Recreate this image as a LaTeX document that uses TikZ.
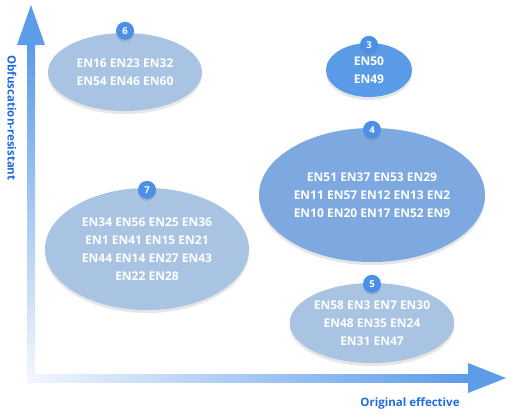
\documentclass[tikz,border=0pt]{standalone}
\usepackage{fontspec}
\setmainfont{Open Sans}
\usepackage{xcolor}
\usetikzlibrary{shapes.geometric}
\usetikzlibrary{shadows}

\definecolor{axisblue}{HTML}{5C9CE8}
\definecolor{axislight}{HTML}{F2F6FD}
\definecolor{labelblue}{HTML}{1F6BE0}
\definecolor{paleblue}{HTML}{A9C3E3}
\definecolor{midblue}{HTML}{7DA9E0}
\definecolor{brightblue}{HTML}{5A9BE8}
\definecolor{badgeblue}{HTML}{4C90E6}

\begin{document}
\begin{tikzpicture}[x=1pt, y=-1pt,
    group/.style = {ellipse, draw=none, fill=paleblue, text=white,
                    font=\bfseries\fontsize{12}{18}\selectfont, align=center,
                    inner sep=0pt,
                    drop shadow={opacity=0.2, shadow xshift=0pt, shadow yshift=-3pt}},
    badge/.style = {circle, fill=badgeblue, text=white, minimum size=18pt,
                    inner sep=0pt, font=\bfseries\fontsize{9.5}{9.5}\selectfont,
                    drop shadow={opacity=0.3, shadow xshift=0pt, shadow yshift=-2pt}},
    axislabel/.style = {text=labelblue, font=\bfseries\fontsize{11.5}{12}\selectfont}]
  \useasboundingbox (0,0) rectangle (506,413);

  % axes
  \coordinate (origin) at (31,378);
  \coordinate (ytip) at (31,5);
  \coordinate (xtip) at (506,378);
  \shade[bottom color=axislight, top color=axisblue]
    ([xshift=-4pt]origin) rectangle ([xshift=4pt,yshift=-40pt]ytip);
  \shade[left color=axislight, right color=axisblue]
    ([xshift=-4pt,yshift=4pt]origin) rectangle ([xshift=-38pt,yshift=-4pt]xtip);
  \fill[axisblue] (ytip) -- ([xshift=-14pt,yshift=-40pt]ytip)
    -- ([xshift=14pt,yshift=-40pt]ytip) -- cycle;
  \fill[axisblue] (xtip) -- ([xshift=-38pt,yshift=15pt]xtip)
    -- ([xshift=-38pt,yshift=-15pt]xtip) -- cycle;

  \node (ylabel) [axislabel, rotate=-90] at (12,118) {Obfuscation-resistant};
  \node (xlabel) [axislabel] at (410,403) {Original effective};

  % groups
  \node (g6) [group, minimum width=154pt, minimum height=78pt] at (125,72)
    {EN16 EN23 EN32\\EN54 EN46 EN60};
  \node (g3) [group, fill=brightblue, minimum width=86pt, minimum height=54pt] at (369,70)
    {EN50\\EN49};
  \node (g4) [group, fill=midblue, minimum width=226pt, minimum height=134pt] at (372,195)
    {EN51 EN37 EN53 EN29\\EN11 EN57 EN12 EN13 EN2\\EN10 EN20 EN17 EN52 EN9};
  \node (g7) [group, minimum width=204pt, minimum height=122pt] at (147,249)
    {EN34 EN56 EN25 EN36\\EN1 EN41 EN15 EN21\\EN44 EN14 EN27 EN43\\EN22 EN28};
  \node (g5) [group, minimum width=160pt, minimum height=80pt] at (372,323)
    {EN58 EN3 EN7 EN30\\EN48 EN35 EN24\\EN31 EN47};

  \node (b6) [badge] at ([yshift=2pt]g6.north) {6};
  \node (b3) [badge] at ([yshift=-2pt]g3.north) {3};
  \node (b4) [badge] at ([yshift=-2pt]g4.north) {4};
  \node (b7) [badge] at ([yshift=-2pt]g7.north) {7};
  \node (b5) [badge] at ([yshift=-1pt]g5.north) {5};
\end{tikzpicture}
\end{document}
